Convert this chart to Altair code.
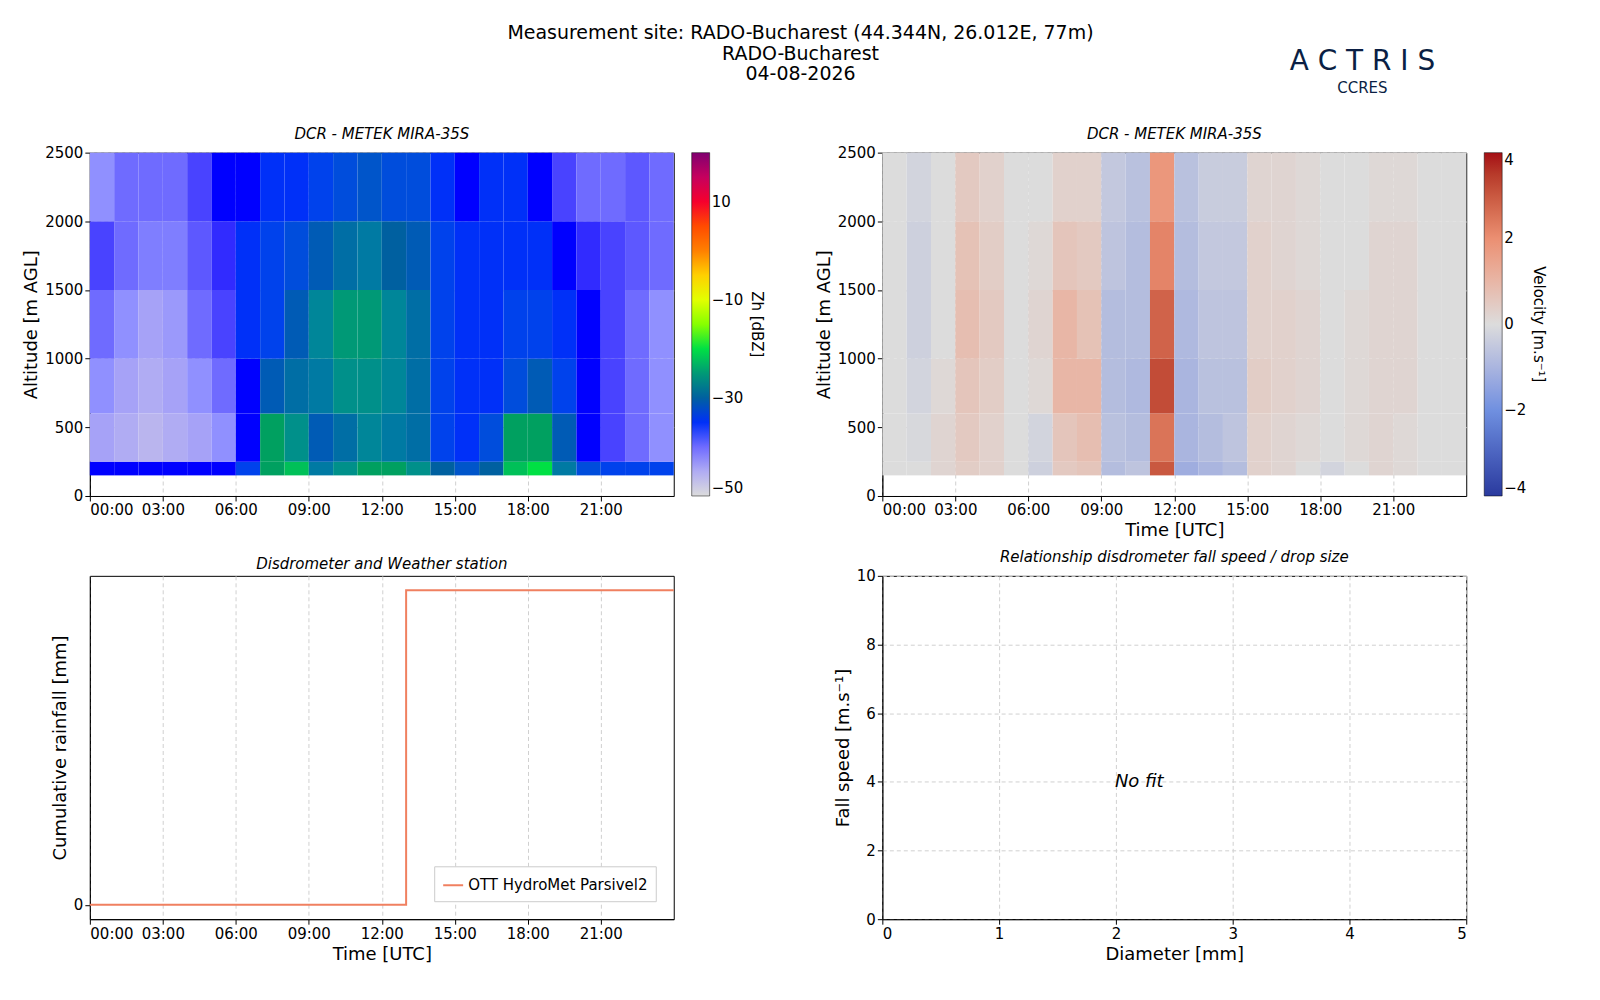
import altair as alt
import pandas as pd

FONT = "DejaVu Sans"

# hourly columns, altitude bins (m AGL)
hours = list(range(24))
alt_edges = [150, 250, 600, 1000, 1500, 2000, 2500]

zh_rows = [
    [-36, -36, -36, -36, -36, -36, -34, -24, -22, -28, -26, -24, -24, -26, -30, -32, -30, -22, -20, -28, -33, -34, -34, -34],
    [-44, -45, -46, -45, -44, -42, -36, -24, -26, -31, -29, -27, -28, -29, -34, -35, -33, -24, -24, -31, -36, -38, -40, -42],
    [-42, -44, -45, -44, -42, -40, -36, -31, -29, -28, -26, -26, -27, -29, -34, -35, -35, -33, -31, -34, -36, -38, -40, -42],
    [-40, -42, -44, -43, -40, -38, -35, -34, -31, -27, -25, -25, -27, -29, -34, -35, -35, -34, -34, -35, -36, -38, -40, -42],
    [-38, -40, -41, -41, -39, -37, -35, -34, -33, -31, -29, -28, -30, -31, -34, -35, -35, -35, -35, -36, -37, -38, -39, -40],
    [-42, -40, -40, -40, -38, -36, -36, -35, -35, -34, -33, -32, -33, -33, -35, -36, -35, -35, -36, -38, -40, -40, -39, -40],
]

vel_rows = [
    [0, 0, 0.2, 0.4, 0.3, 0, -0.3, 0.5, 0.6, -0.8, -0.6, 3.0, -1.2, -1.0, -0.8, 0.3, 0.2, 0, -0.2, 0, 0.2, 0.1, 0, 0],
    [0, -0.1, 0.2, 0.5, 0.3, 0, -0.2, 0.6, 0.8, -0.7, -0.8, 2.5, -1.0, -0.8, -0.6, 0.3, 0.2, 0.1, 0, 0.1, 0.2, 0.1, 0, 0],
    [0, -0.2, 0.1, 0.6, 0.4, 0, 0.1, 1.0, 1.0, -0.8, -0.9, 3.2, -1.0, -0.7, -0.7, 0.4, 0.3, 0.2, 0, 0.1, 0.2, 0.2, 0, 0],
    [0, -0.3, 0, 0.8, 0.5, 0, 0.2, 1.0, 0.7, -0.8, -0.8, 2.8, -0.9, -0.6, -0.6, 0.3, 0.3, 0.2, 0, 0.1, 0.2, 0.2, 0, 0],
    [0, -0.3, 0, 0.7, 0.4, 0, 0.1, 0.6, 0.5, -0.6, -0.8, 2.2, -0.8, -0.5, -0.5, 0.3, 0.2, 0.1, 0, 0, 0.2, 0.2, 0, 0],
    [0, -0.2, 0, 0.5, 0.3, 0, 0, 0.3, 0.3, -0.5, -0.7, 1.8, -0.7, -0.4, -0.4, 0.2, 0.2, 0.1, 0, 0, 0.1, 0.1, 0, 0],
]

rain_time = [0, 13, 13, 24]
rain_cum = [0, 0, 1, 1]

header_lines = ["Measurement site: RADO-Bucharest (44.344N, 26.012E, 77m)", "RADO-Bucharest", "04-08-2026"]

W, H = 585, 344
time_ticks = [0, 3, 6, 9, 12, 15, 18, 21]
time_label = "(datum.value < 10 ? '0' : '') + datum.value + ':00'"


def grid_df(rows):
    recs = []
    for i, row in enumerate(rows):
        for h, v in zip(hours, row):
            recs.append({"t": h, "t2": h + 1, "z": alt_edges[i], "z2": alt_edges[i + 1], "v": v})
    return pd.DataFrame(recs)


def time_x(title=None):
    return alt.X("t:Q", title=title, scale=alt.Scale(domain=[0, 24], nice=False),
                 axis=alt.Axis(values=time_ticks, labelExpr=time_label, gridDash=[4, 3]))


alt_y = alt.Y("z:Q", title="Altitude [m AGL]", scale=alt.Scale(domain=[0, 2500], nice=False),
              axis=alt.Axis(values=[0, 500, 1000, 1500, 2000, 2500], format="d", gridDash=[4, 3]))

cbar = dict(gradientLength=H, gradientThickness=18, titleOrient="right", titleFontWeight="normal",
            titleFontSize=15, labelFontSize=15, gradientStrokeColor="black", gradientStrokeWidth=0.5)

zh = alt.Chart(grid_df(zh_rows)).mark_rect().encode(
    x=time_x(), x2="t2:Q", y=alt_y, y2="z2:Q",
    color=alt.Color("v:Q", title="Zh [dBZ]",
                    scale=alt.Scale(domain=[-50, -42, -36, -30, -24, -18, -8, 0, 8, 20],
                                    range=["#dcdcdc", "#9090ff", "#0000ff", "#0060a0", "#00a060",
                                           "#00ff00", "#ffff00", "#ff8000", "#ff0000", "#800070"]),
                    legend=alt.Legend(values=[-50, -30, -10, 10], **cbar)),
).properties(width=W, height=H, title="DCR - METEK MIRA-35S")

vel = alt.Chart(grid_df(vel_rows)).mark_rect().encode(
    x=time_x("Time [UTC]"), x2="t2:Q", y=alt_y, y2="z2:Q",
    color=alt.Color("v:Q", title="Velocity [m.s⁻¹]",
                    scale=alt.Scale(domain=[-4, -2, 0, 2, 4],
                                    range=["#2a3a9e", "#7090e0", "#dcdcdc", "#eb8f72", "#a50f15"]),
                    legend=alt.Legend(values=[-4, -2, 0, 2, 4], **cbar)),
).properties(width=W, height=H, title="DCR - METEK MIRA-35S")

rain_df = pd.DataFrame({"t": rain_time, "c": rain_cum, "src": ["OTT HydroMet Parsivel2"] * 4})
rain = alt.Chart(rain_df).mark_line(strokeWidth=2).encode(
    x=time_x("Time [UTC]"),
    y=alt.Y("c:Q", title="Cumulative rainfall [mm]", scale=alt.Scale(domain=[-0.046, 1.046], nice=False),
            axis=alt.Axis(values=[0], grid=False)),
    color=alt.Color("src:N", scale=alt.Scale(range=["#f08060"]),
                    legend=alt.Legend(title=None, orient="bottom-right", strokeColor="#cccccc",
                                      fillColor="white", padding=8, labelFontSize=15, labelLimit=400,
                                      symbolType="stroke", symbolStrokeWidth=2, symbolSize=400)),
).properties(width=W, height=H, title="Disdrometer and Weather station")

fit = alt.Chart(pd.DataFrame({"d": [2.2], "f": [4.0], "s": ["No fit"]})).mark_text(
    font=FONT, fontSize=18, fontStyle="italic").encode(
    x=alt.X("d:Q", title="Diameter [mm]", scale=alt.Scale(domain=[0, 5], nice=False),
            axis=alt.Axis(values=[0, 1, 2, 3, 4, 5], gridDash=[4, 3])),
    y=alt.Y("f:Q", title="Fall speed [m.s⁻¹]", scale=alt.Scale(domain=[0, 10], nice=False),
            axis=alt.Axis(values=[0, 2, 4, 6, 8, 10], gridDash=[4, 3])),
    text="s:N",
).properties(width=W, height=H, title="Relationship disdrometer fall speed / drop size")

# header: site title and logo text
hdr_df = pd.DataFrame({"line": header_lines, "row": [0, 1, 2]})
hdr = alt.Chart(hdr_df).mark_text(font=FONT, fontSize=19, baseline="top").encode(
    text="line:N", x=alt.value(712), y=alt.Y("row:O", axis=None, scale=alt.Scale(paddingOuter=0)))
logo_df = pd.DataFrame({"s": ["A C T R I S"], "c": ["CCRES"]})
logo_a = alt.Chart(logo_df).mark_text(font=FONT, color="#0b1f44", fontSize=28).encode(
    text="s:N", x=alt.value(1275), y=alt.value(48))
logo_c = alt.Chart(logo_df).mark_text(font=FONT, color="#0b1f44", fontSize=15).encode(
    text="c:N", x=alt.value(1275), y=alt.value(74))
header = (hdr + logo_a + logo_c).properties(width=1500, height=62, view=alt.ViewConfig(strokeOpacity=0))

panels = alt.concat(zh, vel, rain, fit, columns=2, spacing={"row": 8, "column": 50}).resolve_scale(
    color="independent")

chart = alt.vconcat(header, panels, spacing=30).properties(
    padding={"left": 14, "top": 5, "right": 5, "bottom": 5}
).configure_view(stroke="black").configure_axis(
    labelFont=FONT, titleFont=FONT, labelFontSize=15, titleFontSize=18, titleFontWeight="normal",
    domainColor="black", tickColor="black", labelColor="black", gridColor="#d0d0d0",
).configure_legend(labelFont=FONT, titleFont=FONT).configure_title(
    font=FONT, fontSize=15, fontStyle="italic", fontWeight="normal")

chart.save("out.html", embed_options={"renderer": "svg", "actions": False})
